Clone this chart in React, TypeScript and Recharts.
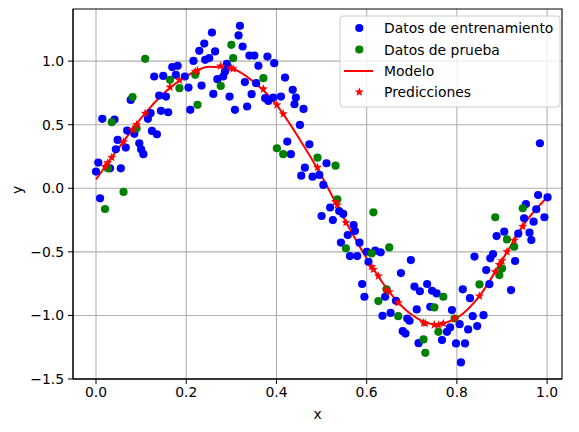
import React from 'react';
import { ComposedChart, Scatter, Line, XAxis, YAxis, CartesianGrid, ReferenceArea } from 'recharts';

const trainX = [
  0.005, 0.000, 0.009, 0.014, 0.041, 0.031, 0.055, 0.048, 0.044, 0.066, 0.069, 0.085, 0.096, 0.100, 0.105, 0.124,
  0.135, 0.121, 0.115, 0.077, 0.144, 0.160, 0.140, 0.155, 0.129, 0.149, 0.169, 0.181, 0.177, 0.197, 0.205, 0.209,
  0.216, 0.229, 0.240, 0.234, 0.242,
  0.257, 0.319, 0.316, 0.264, 0.251, 0.325, 0.340, 0.351, 0.380, 0.395, 0.360, 0.290, 0.286, 0.282, 0.269, 0.260,
  0.296, 0.330, 0.345, 0.355, 0.308, 0.335, 0.375, 0.382, 0.393, 0.410, 0.419, 0.436, 0.443, 0.440, 0.460, 0.452,
  0.424, 0.473, 0.432, 0.463, 0.480, 0.495, 0.511, 0.504, 0.455, 0.519, 0.500, 0.525, 0.539, 0.548, 0.571, 0.574,
  0.558, 0.543, 0.584, 0.563, 0.579, 0.600, 0.619, 0.631, 0.604, 0.698, 0.676, 0.590, 0.595, 0.641, 0.665, 0.706,
  0.718, 0.734, 0.745, 0.755, 0.711, 0.741, 0.653, 0.635, 0.690, 0.695, 0.680, 0.686, 0.715, 0.767, 0.778, 0.785,
  0.789, 0.798, 0.818, 0.809, 0.806, 0.825, 0.845, 0.835, 0.859, 0.829, 0.813, 0.839, 0.865, 0.872, 0.874, 0.880,
  0.888, 0.905, 0.920, 0.929, 0.936, 0.961, 0.965, 0.949, 0.970, 0.953, 0.976, 0.980, 1.001, 0.994, 0.984,
];
const trainY = [
  0.202, 0.131, -0.079, 0.546, 0.540, 0.157, 0.157, 0.380, 0.307, 0.320, 0.454, 0.428, 0.354, 0.307, 0.268, 0.451,
  0.425, 0.591, 0.546, 0.695, 0.609, 0.598, 0.729, 0.721, 0.879, 0.884, 0.953, 0.963, 0.892, 0.879, 0.792, 0.617,
  1.002, 1.081, 1.138, 0.808, 1.010,
  1.225, 1.278, 1.202, 1.076, 1.024, 1.115, 1.044, 1.044, 1.036, 0.984, 0.963, 0.979, 0.918, 0.879, 0.858, 0.742,
  0.721, 0.835, 0.740, 0.827, 0.617, 0.643, 0.709, 0.687, 0.713, 0.721, 0.871, 0.774, 0.713, 0.661, 0.624, 0.498,
  0.367, 0.346, 0.268, 0.162, 0.091, 0.105, 0.197, 0.026, 0.099, -0.151, -0.218, -0.250, -0.179, -0.202, -0.289, -0.336,
  -0.368, -0.427, -0.428, -0.533, -0.533, -0.499, -0.491, -0.504, -0.578, -0.565, -0.667, -0.753, -0.853, -0.853, -0.885, -0.773,
  -0.810, -0.753, -0.806, -0.827, -0.953, -0.932, -0.980, -1.003, -1.024, -1.042, -1.124, -1.143, -1.218, -1.194, -1.129, -1.094,
  -0.958, -1.220, -1.220, -1.370, -1.069, -1.110, -1.084, -1.006, -0.998, -0.864, -0.795, -0.537, -0.643, -0.754, -0.551, -0.517,
  -0.376, -0.341, -0.801, -0.572, -0.357, -0.349, -0.407, -0.236, -0.263, -0.124, -0.165, -0.053, -0.071, -0.228, 0.354,
];

const testX = [
  0.109, 0.081, 0.035, 0.090, 0.026, 0.061, 0.020, 0.164, 0.185, 0.225, 0.220, 0.2765, 0.300, 0.304, 0.371, 0.401,
  0.415, 0.491, 0.531, 0.535, 0.615, 0.554, 0.650, 0.611, 0.644, 0.626, 0.670, 0.770, 0.750, 0.759, 0.726, 0.730,
  0.885, 0.850, 0.795, 0.894, 0.911, 0.927, 0.900, 0.946,
];
const testY = [
  1.018, 0.717, 0.520, 0.472, 0.157, -0.029, -0.163, 0.853, 0.787, 0.656, 0.892, 0.805, 1.128, 1.023, 0.866, 0.315,
  0.268, 0.241, 0.178, -0.087, -0.189, -0.472, -0.465, -0.512, -0.795, -0.887, -1.006, -0.853, -0.937, -1.129, -1.189, -1.294,
  -0.228, -0.756, -1.024, -0.683, -0.402, -0.460, -0.630, -0.157,
];
const predY = [
  0.590, 0.460, 0.243, 0.500, 0.200, 0.365, 0.170, 0.795, 0.850, 0.925, 0.918, 0.961, 0.945, 0.940, 0.781, 0.656,
  0.585, 0.165, -0.105, -0.131, -0.638, -0.271, -0.815, -0.617, -0.800, -0.690, -0.900, -1.063, -1.074, -1.076, -1.058, -1.062,
  -0.657, -0.848, -1.024, -0.600, -0.499, -0.410, -0.570, -0.300,
];

const modelX = [0, 0.05, 0.1, 0.15, 0.2, 0.25, 0.3, 0.35, 0.4, 0.45, 0.5, 0.55, 0.6, 0.65, 0.7, 0.75, 0.8, 0.85, 0.9, 0.95, 1.0];
const modelY = [0.07, 0.315, 0.551, 0.748, 0.88, 0.955, 0.942, 0.835, 0.656, 0.394, 0.097, -0.24, -0.551, -0.814, -0.995, -1.069, -1.019, -0.848, -0.567, -0.276, -0.071];

const xTicks = [0, 0.2, 0.4, 0.6, 0.8, 1.0];
const yTicks = [-1.5, -1.0, -0.5, 0.0, 0.5, 1.0];

const trainData = trainX.map((x, i) => ({ x, y: trainY[i] }));
const testData = testX.map((x, i) => ({ x, y: testY[i] }));
const predData = testX.map((x, i) => ({ x, y: predY[i] }));
const modelData = modelX.map((x, i) => ({ x, y: modelY[i] }));

const FONT = 'DejaVu Sans, sans-serif';
const FS = 13.9;
const fmt = (v: number) => (v < 0 ? '\u2212' + Math.abs(v).toFixed(1) : v.toFixed(1));

const starPath = (cx: number, cy: number, R: number, r: number) => {
  let d = '';
  for (let k = 0; k < 10; k++) {
    const rad = k % 2 === 0 ? R : r;
    const a = -Math.PI / 2 + (k * Math.PI) / 5;
    d += (k === 0 ? 'M' : 'L') + (cx + rad * Math.cos(a)).toFixed(2) + ',' + (cy + rad * Math.sin(a)).toFixed(2);
  }
  return d + 'Z';
};

const dotShape = (color: string) => (props: any) =>
  props.cx == null ? null : <circle cx={props.cx} cy={props.cy} r={4.1} fill={color} />;
const starShape = (props: any) =>
  props.cx == null ? null : <path d={starPath(props.cx, props.cy, 4.8, 2.0)} fill="#ff0000" />;

const XMIN = -0.051;
const XMAX = 1.033;
const YMIN = -1.5;
const YMAX = 1.41;

export default function App() {
  return (
    <div style={{ position: 'absolute', left: 0, top: 0, width: 579, height: 432, background: '#fff' }}>
      <ComposedChart width={579} height={432} margin={{ top: 9, right: 17, bottom: 0, left: 0 }}>
        <CartesianGrid stroke="#b0b0b0" strokeWidth={1.1} horizontalValues={yTicks} verticalValues={xTicks} />
        <XAxis
          type="number"
          dataKey="x"
          domain={[XMIN, XMAX]}
          ticks={xTicks}
          allowDataOverflow
          tickFormatter={fmt}
          height={53}
          tickSize={5}
          tickMargin={3}
          stroke="#000"
          tick={{ fill: '#000', fontSize: FS, fontFamily: FONT }}
          label={{ value: 'x', position: 'insideBottom', offset: 13, fill: '#000', fontSize: FS, fontFamily: FONT }}
        />
        <YAxis
          type="number"
          dataKey="y"
          domain={[YMIN, YMAX]}
          ticks={yTicks}
          allowDataOverflow
          tickFormatter={fmt}
          width={73}
          tickSize={5}
          tickMargin={4}
          stroke="#000"
          tick={{ fill: '#000', fontSize: FS, fontFamily: FONT }}
          label={{ value: 'y', angle: -90, position: 'insideLeft', offset: 17, fill: '#000', fontSize: FS, fontFamily: FONT }}
        />
        <Scatter data={trainData} dataKey="y" shape={dotShape('#0000ff')} isAnimationActive={false} />
        <Scatter data={testData} dataKey="y" shape={dotShape('#008000')} isAnimationActive={false} />
        <Line data={modelData} dataKey="y" type="monotone" stroke="#ff0000" strokeWidth={2} dot={false} activeDot={false} isAnimationActive={false} />
        <Scatter data={predData} dataKey="y" shape={starShape} isAnimationActive={false} />
        <ReferenceArea x1={XMIN} x2={XMAX} y1={YMIN} y2={YMAX} fill="none" stroke="#000" strokeWidth={1.1} ifOverflow="visible" />
      </ComposedChart>
      <svg
        width={222}
        height={93}
        style={{ position: 'absolute', left: 339, top: 15 }}
      >
        <rect x={1} y={1} width={220} height={91} rx={3} ry={3} fill="rgba(255,255,255,0.8)" stroke="#cccccc" strokeWidth={1} />
        <circle cx={20.3} cy={13} r={4.1} fill="#0000ff" />
        <text x={45} y={13} dominantBaseline="central" fontFamily={FONT} fontSize={FS} fill="#000">Datos de entrenamiento</text>
        <circle cx={20.3} cy={34.5} r={4.1} fill="#008000" />
        <text x={45} y={34.5} dominantBaseline="central" fontFamily={FONT} fontSize={FS} fill="#000">Datos de prueba</text>
        <line x1={5} y1={56} x2={34} y2={56} stroke="#ff0000" strokeWidth={2} />
        <text x={45} y={56} dominantBaseline="central" fontFamily={FONT} fontSize={FS} fill="#000">Modelo</text>
        <path d={starPath(20.3, 77, 4.8, 2.0)} fill="#ff0000" />
        <text x={45} y={77} dominantBaseline="central" fontFamily={FONT} fontSize={FS} fill="#000">Predicciones</text>
      </svg>
    </div>
  );
}
